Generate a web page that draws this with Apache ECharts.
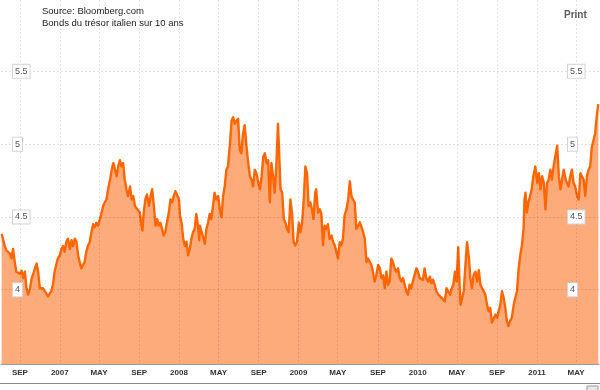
<!DOCTYPE html>
<html><head><meta charset="utf-8">
<script src="https://cdn.jsdelivr.net/npm/echarts@6/dist/echarts.min.js"></script>
<style>html,body{margin:0;padding:0;background:#fff}#c{width:600px;height:390px}</style>
</head><body><div id="c"></div>
<script>
const sourceLines = ['Source: Bloomberg.com', 'Bonds du trésor italien sur 10 ans'];
const printLabel = 'Print';
const tickDates = ['2006-09-01','2007-01-01','2007-05-01','2007-09-01','2008-01-01','2008-05-01','2008-09-01','2009-01-01','2009-05-01','2009-09-01','2010-01-01','2010-05-01','2010-09-01','2011-01-01','2011-05-01'];
const tickLabels = ['SEP','2007','MAY','SEP','2008','MAY','SEP','2009','MAY','SEP','2010','MAY','SEP','2011','MAY'];
const yTicks = [4, 4.5, 5, 5.5];
const yTickLabels = ['4', '4.5', '5', '5.5'];

const dates2006 = ['2006-07-07','2006-07-11','2006-07-16','2006-07-21','2006-07-26','2006-08-01','2006-08-06','2006-08-11','2006-08-16','2006-08-21','2006-08-26','2006-09-01','2006-09-06','2006-09-11','2006-09-16','2006-09-21','2006-09-26','2006-10-02','2006-10-07','2006-10-12','2006-10-17','2006-10-22','2006-10-27','2006-11-01','2006-11-06','2006-11-11','2006-11-16','2006-11-21','2006-11-26','2006-12-01','2006-12-06','2006-12-11','2006-12-16','2006-12-21','2006-12-26'];
const yields2006 = [4.384,4.35,4.305,4.27,4.28,4.25,4.215,4.28,4.19,4.124,4.13,4.11,4.13,4.08,4.124,4.01,3.966,4.01,4.08,4.11,4.147,4.18,4.12,4.01,4.0,4.01,3.99,3.978,3.955,3.944,3.99,4.034,4.124,4.17,4.214];

const dates2007 = ['2007-01-01','2007-01-06','2007-01-11','2007-01-16','2007-01-21','2007-01-26','2007-02-01','2007-02-06','2007-02-11','2007-02-16','2007-02-21','2007-02-26','2007-03-03','2007-03-08','2007-03-13','2007-03-18','2007-03-23','2007-03-28','2007-04-03','2007-04-08','2007-04-13','2007-04-18','2007-04-23','2007-04-28','2007-05-04','2007-05-09','2007-05-14','2007-05-19','2007-05-24','2007-05-29','2007-06-04','2007-06-09','2007-06-14','2007-06-19','2007-06-24','2007-06-29','2007-07-04','2007-07-09','2007-07-14','2007-07-19','2007-07-24','2007-07-29','2007-08-04','2007-08-09','2007-08-14','2007-08-19','2007-08-24','2007-08-29','2007-09-03','2007-09-08','2007-09-11','2007-09-15','2007-09-20','2007-09-25','2007-10-01','2007-10-06','2007-10-11','2007-10-16','2007-10-21','2007-10-26','2007-10-31','2007-11-05','2007-11-10','2007-11-15','2007-11-20','2007-11-25','2007-12-01','2007-12-06','2007-12-11','2007-12-16','2007-12-21','2007-12-26'];
const yields2007 = [4.237,4.28,4.30,4.26,4.33,4.35,4.28,4.34,4.30,4.35,4.33,4.237,4.19,4.147,4.17,4.19,4.26,4.30,4.33,4.395,4.45,4.43,4.46,4.44,4.485,4.53,4.576,4.6,4.62,4.69,4.756,4.824,4.87,4.86,4.78,4.846,4.89,4.846,4.87,4.756,4.69,4.643,4.71,4.62,4.643,4.576,4.56,4.553,4.53,4.44,4.406,4.53,4.62,4.655,4.576,4.643,4.69,4.576,4.44,4.485,4.44,4.46,4.418,4.372,4.395,4.46,4.53,4.62,4.6,4.643,4.677,4.69];

const dates2008 = ['2008-01-01','2008-01-04','2008-01-09','2008-01-14','2008-01-19','2008-01-24','2008-01-29','2008-02-03','2008-02-08','2008-02-13','2008-02-18','2008-02-23','2008-02-28','2008-03-03','2008-03-05','2008-03-10','2008-03-15','2008-03-20','2008-03-25','2008-03-30','2008-04-04','2008-04-09','2008-04-14','2008-04-19','2008-04-24','2008-04-30','2008-05-05','2008-05-10','2008-05-15','2008-05-20','2008-05-25','2008-05-30','2008-06-05','2008-06-10','2008-06-15','2008-06-20','2008-06-25','2008-06-30','2008-07-05','2008-07-10','2008-07-15','2008-07-20','2008-07-25','2008-07-30','2008-08-05','2008-08-10','2008-08-15','2008-08-20','2008-08-25','2008-08-31','2008-09-05','2008-09-10','2008-09-15','2008-09-20','2008-09-25','2008-09-30','2008-10-05','2008-10-10','2008-10-15','2008-10-20','2008-10-25','2008-10-30','2008-11-02','2008-11-07','2008-11-12','2008-11-17','2008-11-22','2008-11-27','2008-12-02','2008-12-07','2008-12-12','2008-12-17','2008-12-22','2008-12-27'];
const yields2008 = [4.62,4.51,4.46,4.35,4.30,4.33,4.237,4.28,4.35,4.395,4.418,4.52,4.44,4.34,4.44,4.395,4.36,4.316,4.418,4.46,4.52,4.485,4.576,4.666,4.62,4.643,4.553,4.497,4.643,4.71,4.824,4.846,5.0,5.16,5.185,5.14,5.16,5.174,4.96,4.937,5.07,5.13,5.0,4.89,4.78,4.756,4.71,4.824,4.80,4.734,4.69,4.78,4.914,4.937,4.87,4.89,4.60,4.87,4.78,4.666,4.846,5.14,4.98,4.69,4.666,4.485,4.46,4.418,4.395,4.62,4.53,4.327,4.305,4.327];

const dates2009 = ['2009-01-02','2009-01-07','2009-01-12','2009-01-17','2009-01-22','2009-01-27','2009-02-01','2009-02-06','2009-02-11','2009-02-16','2009-02-21','2009-02-24','2009-03-02','2009-03-07','2009-03-12','2009-03-17','2009-03-22','2009-03-27','2009-04-01','2009-04-06','2009-04-12','2009-04-17','2009-04-22','2009-04-27','2009-05-02','2009-05-07','2009-05-12','2009-05-17','2009-05-22','2009-05-28','2009-06-02','2009-06-07','2009-06-12','2009-06-17','2009-06-22','2009-06-27','2009-07-03','2009-07-08','2009-07-13','2009-07-18','2009-07-23','2009-07-28','2009-08-02','2009-08-07','2009-08-12','2009-08-17','2009-08-22','2009-08-27','2009-09-02','2009-09-07','2009-09-12','2009-09-17','2009-09-22','2009-09-27','2009-10-02','2009-10-07','2009-10-12','2009-10-17','2009-10-22','2009-10-27','2009-11-02','2009-11-07','2009-11-12','2009-11-17','2009-11-22','2009-11-27','2009-12-02','2009-12-07','2009-12-12','2009-12-17','2009-12-22','2009-12-28'];
const yields2009 = [4.46,4.395,4.46,4.62,4.846,4.80,4.576,4.6,4.553,4.485,4.666,4.69,4.53,4.553,4.52,4.305,4.44,4.418,4.45,4.35,4.372,4.327,4.305,4.26,4.214,4.327,4.305,4.35,4.51,4.553,4.62,4.745,4.643,4.62,4.60,4.418,4.44,4.463,4.463,4.395,4.35,4.19,4.214,4.214,4.17,4.124,4.056,4.10,4.17,4.147,4.08,4.10,4.01,4.124,4.034,4.056,4.214,4.19,4.147,4.124,4.147,4.08,4.056,4.08,4.068,3.99,3.966,4.034,4.01,4.056,4.056,4.147];

const dates2010 = ['2010-01-02','2010-01-07','2010-01-12','2010-01-17','2010-01-22','2010-01-27','2010-02-02','2010-02-07','2010-02-12','2010-02-17','2010-02-22','2010-02-27','2010-03-05','2010-03-10','2010-03-15','2010-03-20','2010-03-25','2010-03-30','2010-04-04','2010-04-10','2010-04-15','2010-04-20','2010-04-25','2010-04-30','2010-05-05','2010-05-08','2010-05-12','2010-05-17','2010-05-22','2010-05-27','2010-06-01','2010-06-04','2010-06-07','2010-06-11','2010-06-16','2010-06-21','2010-06-27','2010-07-02','2010-07-07','2010-07-12','2010-07-17','2010-07-22','2010-07-27','2010-08-01','2010-08-06','2010-08-11','2010-08-16','2010-08-22','2010-08-27','2010-09-01','2010-09-06','2010-09-11','2010-09-16','2010-09-21','2010-09-26','2010-10-01','2010-10-06','2010-10-11','2010-10-16','2010-10-22','2010-10-27','2010-11-01','2010-11-06','2010-11-11','2010-11-16','2010-11-21','2010-11-24','2010-11-27','2010-12-01','2010-12-06','2010-12-11','2010-12-16','2010-12-21','2010-12-27'];
const yields2010 = [4.124,4.08,4.09,4.068,4.147,4.08,4.056,4.09,4.045,4.068,4.034,3.99,3.966,3.955,3.944,3.932,3.92,4.01,3.99,3.966,4.01,4.034,4.124,4.056,4.293,4.10,3.898,3.944,3.99,4.17,4.327,4.34,4.214,4.08,4.01,4.10,4.124,4.056,4.135,4.034,4.01,3.99,3.966,3.898,3.853,3.876,3.774,3.786,3.83,3.808,3.853,3.898,3.99,3.944,3.876,3.786,3.752,3.786,3.808,3.898,3.944,3.99,4.147,4.237,4.305,4.418,4.62,4.666,4.53,4.6,4.643,4.69,4.78,4.846];

const dates2011 = ['2011-01-02','2011-01-07','2011-01-12','2011-01-17','2011-01-22','2011-01-27','2011-02-01','2011-02-06','2011-02-11','2011-02-16','2011-02-21','2011-02-26','2011-03-04','2011-03-09','2011-03-14','2011-03-19','2011-03-24','2011-03-30','2011-04-03','2011-04-08','2011-04-13','2011-04-18','2011-04-23','2011-04-28','2011-05-04','2011-05-09','2011-05-14','2011-05-19','2011-05-24','2011-05-29','2011-06-03','2011-06-08','2011-06-13','2011-06-18','2011-06-23','2011-06-28','2011-07-04','2011-07-08'];
const yields2011 = [4.734,4.80,4.69,4.78,4.734,4.553,4.734,4.756,4.824,4.756,4.846,4.914,4.99,4.78,4.69,4.756,4.824,4.756,4.734,4.71,4.78,4.824,4.734,4.71,4.643,4.62,4.80,4.80,4.756,4.643,4.78,4.824,4.846,4.98,4.98,5.07,5.21,5.275];

const toTime = d => Date.UTC(+d.slice(0, 4), +d.slice(5, 7) - 1, +d.slice(8, 10));
const allDates = [].concat(dates2006, dates2007, dates2008, dates2009, dates2010, dates2011);
const allYields = [].concat(yields2006, yields2007, yields2008, yields2009, yields2010, yields2011);
const seriesData = allDates.map((d, i) => [toTime(d), allYields[i]]);

const tickTimes = tickDates.map(toTime);
const labelFor = {};
tickTimes.forEach((t, i) => { labelFor[t] = tickLabels[i]; });
const yLabelFor = {};
yTicks.forEach((v, i) => { yLabelFor[v] = yTickLabels[i]; });

const FONT = 'Arial, "Liberation Sans", Helvetica, sans-serif';
const gridStyle = {color: 'rgba(0,0,0,0.11)', width: 1, type: [2, 2]};
const yLabelBase = {
  inside: true,
  customValues: yTicks,
  formatter: v => yLabelFor[v] !== undefined ? yLabelFor[v] : '',
  color: '#555',
  fontSize: 9,
  fontFamily: FONT,
  backgroundColor: '#fff',
  borderColor: '#d4d4d4',
  borderWidth: 1,
  padding: [2, 2, 2, 2],
  verticalAlign: 'middle'
};

const chart = echarts.init(document.getElementById('c'), null, {renderer: 'canvas'});
chart.setOption({
  animation: false,
  backgroundColor: '#fff',
  grid: {left: 1, right: 1, top: 0, bottom: 26, containLabel: false},
  xAxis: {
    type: 'value',
    min: toTime('2006-07-05'),
    max: toTime('2011-07-10'),
    z: 3,
    axisLine: {show: true, lineStyle: {color: '#999', width: 1}},
    axisTick: {show: false, customValues: tickTimes},
    axisLabel: {
      customValues: tickTimes,
      formatter: v => labelFor[v] || '',
      color: '#333', fontSize: 8, fontWeight: 'bold', fontFamily: FONT,
      margin: 5, hideOverlap: false, showMinLabel: true, showMaxLabel: true
    },
    splitLine: {show: true, lineStyle: gridStyle}
  },
  yAxis: [{
    type: 'value', position: 'left', min: 3.49, max: 5.99, z: 3,
    axisLine: {show: false},
    axisTick: {show: false, customValues: yTicks},
    axisLabel: Object.assign({}, yLabelBase, {margin: 12, align: 'left'}),
    splitLine: {show: true, lineStyle: gridStyle}
  }, {
    type: 'value', position: 'right', min: 3.49, max: 5.99, z: 4,
    axisLine: {show: false},
    axisTick: {show: false, customValues: yTicks},
    axisLabel: Object.assign({}, yLabelBase, {margin: 31, align: 'left'}),
    splitLine: {show: false}
  }],
  series: [{
    type: 'line',
    data: seriesData,
    yAxisIndex: 0,
    symbol: 'none',
    smooth: false,
    z: 2,
    lineStyle: {color: '#ff6600', width: 2.4, join: 'round'},
    areaStyle: {color: '#fdab7b', opacity: 1, origin: 'start'}
  }],
  graphic: [
    {type: 'text', left: 42, top: 6.5, style: {text: sourceLines[0], fill: '#222', font: '9.5px ' + FONT}},
    {type: 'text', left: 42, top: 18, style: {text: sourceLines[1], fill: '#222', font: '9.5px ' + FONT}},
    {type: 'text', left: 564, top: 10.5, style: {text: printLabel, fill: '#5a5a5a', font: 'bold 10px ' + FONT}},
    {type: 'line', shape: {x1: 0, y1: 383.5, x2: 600, y2: 383.5}, style: {stroke: '#8a8a8a', lineWidth: 1}},
    {type: 'rect', shape: {x: 587, y: 386, width: 11, height: 5}, style: {fill: '#e8e8e8', stroke: '#999', lineWidth: 1}}
  ]
});
</script>
</body></html>
